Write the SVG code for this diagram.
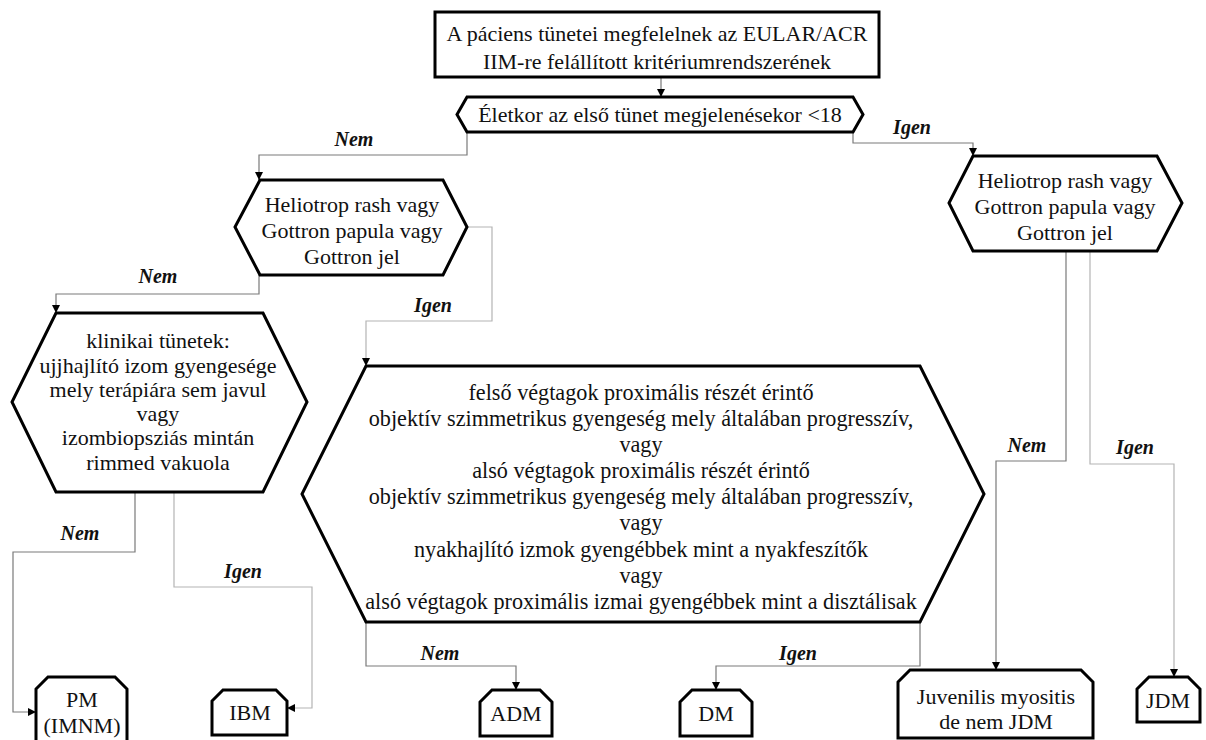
<svg xmlns="http://www.w3.org/2000/svg" width="1206" height="740" viewBox="0 0 1206 740">
<style>
.n{fill:#fff;stroke:#000;stroke-width:3;stroke-linejoin:miter}
.t{font-family:"Liberation Serif","Times New Roman",serif;font-size:22px;fill:#111;text-anchor:middle}
.b{font-size:22.2px}
.l{font-family:"Liberation Serif","Times New Roman",serif;font-size:20px;font-weight:bold;font-style:italic;fill:#111;text-anchor:middle}
.c{fill:none;stroke:#7a7a7a;stroke-width:1.2}
.cl{fill:none;stroke:#b4b4b4;stroke-width:1.2}
</style>
<defs>
<marker id="a" viewBox="0 0 10 10" refX="10" refY="5" markerWidth="8" markerHeight="8" markerUnits="userSpaceOnUse" orient="auto">
<path d="M0,0 L10,5 L0,10 z" fill="#000"/>
</marker>
</defs>
<rect width="1206" height="740" fill="#fff"/>
<g id="connectors">
<path class="c" d="M661,77 V97" marker-end="url(#a)"/>
<path class="c" d="M467,132 V155 H259 V180" marker-end="url(#a)"/>
<path class="c" d="M853,132 V143 H973 V156" marker-end="url(#a)"/>
<path class="c" d="M259,275 V294 H56 V313" marker-end="url(#a)"/>
<path class="cl" d="M467,227 H492 V321 H366 V366" marker-end="url(#a)"/>
<path class="c" d="M135,492 V552 H13 V712 H36" marker-end="url(#a)"/>
<path class="cl" d="M174,492 V587 H312 V708 H287" marker-end="url(#a)"/>
<path class="c" d="M366,622 V666 H516 V690" marker-end="url(#a)"/>
<path class="c" d="M920,622 V666 H716 V690" marker-end="url(#a)"/>
<path class="c" d="M1066,251 V461 H996 V670" marker-end="url(#a)"/>
<path class="cl" d="M1090,251 V464 H1174 V677" marker-end="url(#a)"/>
<text class="l" x="354" y="146">Nem</text>
<text class="l" x="912" y="134">Igen</text>
<text class="l" x="158" y="283">Nem</text>
<text class="l" x="433" y="312">Igen</text>
<text class="l" x="80" y="540">Nem</text>
<text class="l" x="243" y="578">Igen</text>
<text class="l" x="440" y="660">Nem</text>
<text class="l" x="798" y="660">Igen</text>
<text class="l" x="1027" y="452">Nem</text>
<text class="l" x="1135" y="454">Igen</text>
</g>
<g id="start">
<rect class="n" x="435" y="12" width="444" height="65"/>
<text class="t" x="657" y="41">A páciens tünetei megfelelnek az EULAR/ACR</text>
<text class="t" x="657" y="69">IIM-re felállított kritériumrendszerének</text>
</g>
<g id="age">
<polygon class="n" points="467,97 853,97 863,114.5 853,132 467,132 457,114.5"/>
<text class="t" x="660" y="122">Életkor az első tünet megjelenésekor &lt;18</text>
</g>
<g id="skin-left">
<polygon class="n" points="260,180 443,180 467,227 443,275 260,275 235,227"/>
<text class="t" x="352" y="212">Heliotrop rash vagy</text>
<text class="t" x="352" y="238">Gottron papula vagy</text>
<text class="t" x="352" y="264">Gottron jel</text>
</g>
<g id="skin-right">
<polygon class="n" points="973,156 1157,156 1182,203 1157,251 973,251 949,203"/>
<text class="t" x="1065" y="188">Heliotrop rash vagy</text>
<text class="t" x="1065" y="214">Gottron papula vagy</text>
<text class="t" x="1065" y="240">Gottron jel</text>
</g>
<g id="clinical">
<polygon class="n" points="56,313 263,313 307,402 263,492 56,492 12,402"/>
<text class="t" x="158" y="348">klinikai tünetek:</text>
<text class="t" x="158" y="373">ujjhajlító izom gyengesége</text>
<text class="t" x="158" y="397">mely terápiára sem javul</text>
<text class="t" x="158" y="421">vagy</text>
<text class="t" x="158" y="445">izombiopsziás mintán</text>
<text class="t" x="158" y="470">rimmed vakuola</text>
</g>
<g id="weakness">
<polygon class="n" points="366,366 920,366 984,494 920,622 366,622 302,494"/>
<text class="t b" x="641" y="400">felső végtagok proximális részét érintő</text>
<text class="t b" x="641" y="426">objektív szimmetrikus gyengeség mely általában progresszív,</text>
<text class="t b" x="641" y="452">vagy</text>
<text class="t b" x="641" y="478">alsó végtagok proximális részét érintő</text>
<text class="t b" x="641" y="504">objektív szimmetrikus gyengeség  mely általában progresszív,</text>
<text class="t b" x="641" y="530">vagy</text>
<text class="t b" x="641" y="557">nyakhajlító izmok gyengébbek mint a nyakfeszítők</text>
<text class="t b" x="641" y="583">vagy</text>
<text class="t b" x="641" y="609">alsó végtagok proximális izmai gyengébbek mint a disztálisak</text>
</g>
<g id="pm">
<polygon class="n" points="36,689 48,677 115,677 127,689 127,745 36,745"/>
<text class="t" x="82" y="707">PM</text>
<text class="t" x="82" y="733">(IMNM)</text>
</g>
<g id="ibm">
<polygon class="n" points="212,701 223,690 276,690 287,701 287,735 212,735"/>
<text class="t" x="250" y="720">IBM</text>
</g>
<g id="adm">
<polygon class="n" points="480,702 492,690 540,690 552,702 552,736 480,736"/>
<text class="t" x="516" y="721">ADM</text>
</g>
<g id="dm">
<polygon class="n" points="680,702 692,690 740,690 752,702 752,736 680,736"/>
<text class="t" x="716" y="721">DM</text>
</g>
<g id="juvenile">
<polygon class="n" points="898,682 910,670 1081,670 1093,682 1093,738 898,738"/>
<text class="t" x="996" y="704">Juvenilis myositis</text>
<text class="t" x="996" y="729">de nem JDM</text>
</g>
<g id="jdm">
<polygon class="n" points="1137,689 1149,677 1188,677 1200,689 1200,722 1137,722"/>
<text class="t" x="1168" y="708">JDM</text>
</g>
</svg>
